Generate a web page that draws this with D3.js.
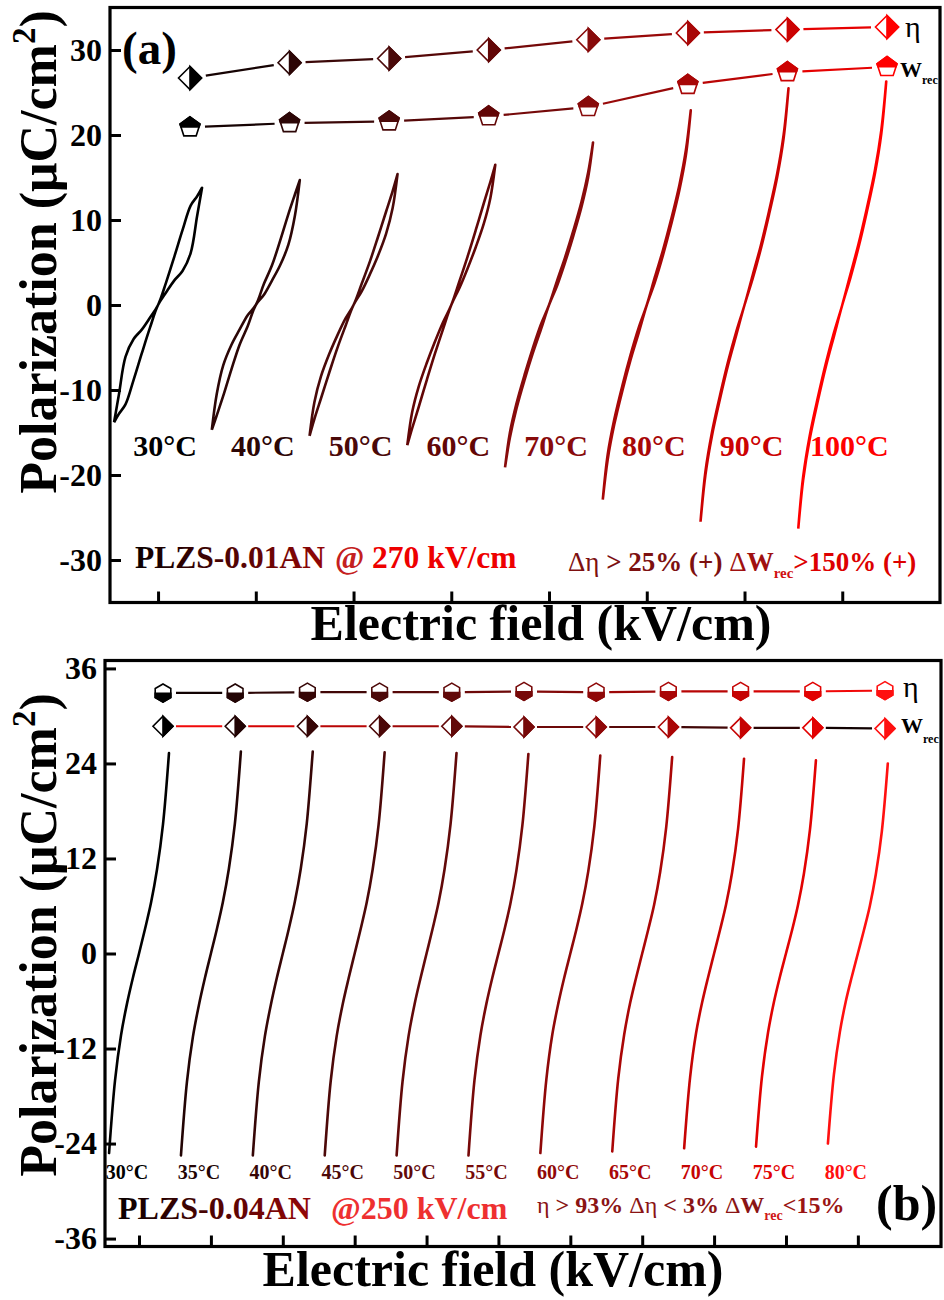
<!DOCTYPE html>
<html><head><meta charset="utf-8">
<script src="https://cdn.jsdelivr.net/npm/d3@7"></script>
<style>
body{margin:0;background:#fff;}
svg{display:block;font-family:"Liberation Serif","Times New Roman",serif;font-weight:bold;}
</style></head><body>
<svg id="chart" width="944" height="1300"></svg>
<script>
// ---------- Panel (a): PLZS-0.01AN, P–E loops at 270 kV/cm ----------
const tempsA = [30, 40, 50, 60, 70, 80, 90, 100];
// horizontal offset applied to each loop so they sit side by side (kV/cm)
const shiftA = [0, 600, 1200, 1800, 2400, 3000, 3600, 4200];
const fieldA = [-270, -240, -200, -150, -100, -50, 0, 50, 100, 150, 200, 240, 270];
// rising-field branch (µC/cm²) at fieldA
const ascA = [
  [-13.8, -12.8, -11.7, -8.8, -5.7, -2.7, 0, 1.5, 2.9, 4.0, 6.1, 10.5, 13.8],
  [-14.7, -13.0, -10.7, -7.6, -4.7, -2.5, 0, 1.2, 2.9, 4.7, 7.1, 10.5, 14.7],
  [-15.4, -13.4, -11.0, -8.0, -5.1, -2.5, 0, 1.6, 3.6, 5.8, 8.4, 11.4, 15.4],
  [-16.5, -14.5, -12.0, -8.8, -5.7, -2.8, 0, 2.0, 4.3, 6.8, 9.6, 12.6, 16.5],
  [-19.1, -15.6, -12.2, -8.8, -5.7, -2.9, 0, 2.3, 5.1, 8.2, 11.6, 15.0, 19.1],
  [-22.9, -18.2, -14.1, -10.1, -6.5, -3.3, 0, 2.7, 5.9, 9.5, 13.5, 17.6, 22.9],
  [-25.5, -20.0, -15.4, -11.0, -7.0, -3.5, 0, 3.1, 6.6, 10.6, 15.0, 19.6, 25.5],
  [-26.3, -20.6, -15.8, -11.3, -7.2, -3.6, 0, 3.2, 6.8, 10.9, 15.4, 20.2, 26.3]
];
// falling-field branch (µC/cm²) at fieldA
const descA = [
  [-13.8, -10.5, -6.1, -4.0, -2.9, -1.5, 0, 2.7, 5.7, 8.8, 11.7, 12.8, 13.8],
  [-14.7, -10.5, -7.1, -4.7, -2.9, -1.2, 0, 2.5, 4.7, 7.6, 10.7, 13.0, 14.7],
  [-15.4, -11.4, -8.4, -5.8, -3.6, -1.6, 0, 2.5, 5.1, 8.0, 11.0, 13.4, 15.4],
  [-16.5, -12.6, -9.6, -6.8, -4.3, -2.0, 0, 2.8, 5.7, 8.8, 12.0, 14.5, 16.5],
  [-19.1, -15.0, -11.6, -8.2, -5.1, -2.3, 0, 2.9, 5.7, 8.8, 12.2, 15.6, 19.1],
  [-22.9, -17.6, -13.5, -9.5, -5.9, -2.7, 0, 3.3, 6.5, 10.1, 14.1, 18.2, 22.9],
  [-25.5, -19.6, -15.0, -10.6, -6.6, -3.1, 0, 3.5, 7.0, 11.0, 15.4, 20.0, 25.5],
  [-26.3, -20.2, -15.4, -10.9, -6.8, -3.2, 0, 3.6, 7.2, 11.3, 15.8, 20.6, 26.3]
];
// efficiency and recoverable energy, plotted on the polarization axis
const etaA = [26.7, 28.5, 29.0, 30.0, 31.2, 32.0, 32.4, 32.7];
const wrecA = [20.9, 21.4, 21.6, 22.2, 23.3, 25.9, 27.4, 28.0];
const colorsA = ["#000000", "#2c0606", "#4a0909", "#620606", "#880b0b", "#a80707", "#cc0202", "#ff0000"];
const yTicksA = [-30, -20, -10, 0, 10, 20, 30];

// ---------- Panel (b): PLZS-0.04AN, P–E curves at 250 kV/cm ----------
const tempsB = [30, 35, 40, 45, 50, 55, 60, 65, 70, 75, 80];
const shiftB = [0, 600, 1200, 1800, 2400, 3000, 3600, 4200, 4800, 5400, 6000];
const fieldB = [-250, -200, -150, -100, -50, 0, 50, 100, 150, 200, 250];
const polB = [
  [-25.2, -16.0, -10.3, -6.3, -3.0, 0, 3.1, 6.4, 10.6, 16.3, 25.3],
  [-25.5, -16.2, -10.5, -6.5, -3.1, 0, 3.1, 6.5, 10.7, 16.4, 25.5],
  [-25.5, -16.2, -10.5, -6.5, -3.1, 0, 3.1, 6.5, 10.7, 16.4, 25.5],
  [-25.5, -16.1, -10.4, -6.4, -3.1, 0, 3.1, 6.4, 10.6, 16.3, 25.4],
  [-25.5, -16.1, -10.4, -6.4, -3.1, 0, 3.1, 6.4, 10.6, 16.3, 25.3],
  [-25.5, -16.0, -10.3, -6.3, -3.0, 0, 3.0, 6.3, 10.5, 16.2, 25.2],
  [-25.2, -15.9, -10.2, -6.3, -3.0, 0, 3.0, 6.3, 10.4, 16.0, 25.0],
  [-25.0, -15.8, -10.2, -6.2, -3.0, 0, 3.0, 6.2, 10.3, 15.9, 24.8],
  [-24.6, -15.6, -10.0, -6.2, -3.0, 0, 3.0, 6.2, 10.2, 15.7, 24.6],
  [-24.4, -15.5, -10.0, -6.1, -2.9, 0, 2.9, 6.1, 10.1, 15.6, 24.4],
  [-24.0, -15.3, -9.9, -6.0, -2.9, 0, 2.9, 6.0, 10.0, 15.4, 24.0]
];
const etaB = [32.9, 32.9, 33.0, 33.0, 33.0, 33.1, 33.0, 33.1, 33.1, 33.1, 33.2];
const wrecB = [28.7, 28.7, 28.7, 28.7, 28.7, 28.6, 28.6, 28.6, 28.5, 28.5, 28.4];
const colorsB = ["#000000", "#220404", "#360606", "#4c0808", "#620909", "#770909", "#8f0808", "#aa0606", "#c60404", "#e20202", "#ff1010"];
const yTicksB = [-36, -24, -12, 0, 12, 24, 36];

const svg = d3.select("#chart");
const defs = svg.append("defs");

function gradient(id, c0, c1) {
  const g = defs.append("linearGradient").attr("id", id).attr("x1", "0").attr("x2", "1").attr("y1", "0").attr("y2", "0");
  g.append("stop").attr("offset", "0").attr("stop-color", c0);
  g.append("stop").attr("offset", "1").attr("stop-color", c1);
}
gradient("nameA", "#0a0000", "#930606");
gradient("nameB", "#0a0000", "#950606");

defs.append("clipPath").attr("id", "upperHalf").append("rect").attr("x", -30).attr("y", -30).attr("width", 60).attr("height", 30.5);
defs.append("clipPath").attr("id", "lowerHalf").append("rect").attr("x", -30).attr("y", -0.5).attr("width", 60).attr("height", 30.5);

function polygon(r, n, startDeg) {
  const pts = d3.range(n).map(k => {
    const a = (startDeg + k * 360 / n) * Math.PI / 180;
    return [r * Math.cos(a), r * Math.sin(a)];
  });
  return "M" + pts.map(p => p.join(",")).join("L") + "Z";
}

function diamondMark(g, r, color) {
  g.append("path").attr("d", `M0,${-r}L${r},0L0,${r}L${-r},0Z`).attr("fill", "#fff").attr("stroke", color).attr("stroke-width", 1.6);
  g.append("path").attr("d", `M0,${-r}L${r},0L0,${r}Z`).attr("fill", color).attr("stroke", color).attr("stroke-width", 1.6).attr("stroke-linejoin", "miter");
}
function pentagonMark(g, r, color) {
  const d = polygon(r, 5, -90);
  g.append("path").attr("d", d).attr("fill", "#fff").attr("stroke", color).attr("stroke-width", 1.6);
  g.append("path").attr("d", d).attr("fill", color).attr("stroke", color).attr("stroke-width", 1.6).attr("clip-path", "url(#upperHalf)");
}
function hexagonMark(g, r, color) {
  const d = polygon(r, 6, -90);
  g.append("path").attr("d", d).attr("fill", "#fff").attr("stroke", color).attr("stroke-width", 1.6);
  g.append("path").attr("d", d).attr("fill", color).attr("stroke", color).attr("stroke-width", 1.6).attr("clip-path", "url(#lowerHalf)");
}

// connect consecutive markers with short segments that stop before each marker
function markerSeries(gp, xs, ys, gap, segColor, drawMark, r, markColor) {
  for (let i = 0; i < xs.length - 1; i++) {
    const x0 = xs[i], y0 = ys[i], x1 = xs[i + 1], y1 = ys[i + 1];
    const len = Math.hypot(x1 - x0, y1 - y0), ux = (x1 - x0) / len, uy = (y1 - y0) / len;
    gp.append("line")
      .attr("x1", x0 + ux * gap).attr("y1", y0 + uy * gap)
      .attr("x2", x1 - ux * gap).attr("y2", y1 - uy * gap)
      .attr("stroke", segColor(i)).attr("stroke-width", 2.2);
  }
  xs.forEach((x, i) => {
    const g = gp.append("g").attr("transform", `translate(${x},${ys[i]})`);
    drawMark(g, r, markColor(i));
  });
}

function frameAndAxes(gp, x, y, yTicks, xTicks) {
  const [x0, x1] = x.range(), [y0, y1] = y.range();
  gp.append("g").attr("transform", `translate(${x0},0)`)
    .call(d3.axisLeft(y).tickValues(yTicks).tickSize(-11).tickPadding(8).tickFormat(d => String(d)))
    .call(a => a.select(".domain").remove())
    .call(a => a.selectAll(".tick line").attr("stroke", "#000").attr("stroke-width", 3))
    .call(a => a.selectAll(".tick text").attr("font-family", "Liberation Serif, Times New Roman, serif")
      .attr("font-weight", "bold").attr("font-size", 32).attr("fill", "#000"));
  gp.append("g").attr("transform", `translate(0,${y0})`)
    .call(d3.axisBottom(x).tickValues(xTicks).tickSize(-11).tickFormat(""))
    .call(a => a.select(".domain").remove())
    .call(a => a.selectAll(".tick line").attr("stroke", "#000").attr("stroke-width", 3));
  gp.append("rect").attr("x", x0).attr("y", y1).attr("width", x1 - x0).attr("height", y0 - y1)
    .attr("fill", "none").attr("stroke", "#000").attr("stroke-width", 3.2);
}

function yLabel(cx, cy) {
  const t = svg.append("text").attr("transform", `translate(${cx},${cy}) rotate(-90)`)
    .attr("text-anchor", "middle").attr("font-size", 52).attr("fill", "#000");
  t.append("tspan").text("Polarization (μC/cm");
  t.append("tspan").attr("font-size", 33).attr("dy", -21).text("2");
  t.append("tspan").attr("dy", 21).text(")");
}

const lineGen = (x, y) => d3.line().x(d => x(d[0])).y(d => y(d[1])).curve(d3.curveCatmullRom.alpha(0.5));

// ================= Panel (a) =================
{
  const x = d3.scaleLinear().domain([-295, 4800]).range([110, 940]);
  const y = d3.scaleLinear().domain([-35, 35]).range([602.5, 7.5]);
  const gp = svg.append("g");

  // loops: rising branch then falling branch back to the start
  tempsA.forEach((t, i) => {
    const pts = fieldA.map((e, k) => [shiftA[i] + e, ascA[i][k]])
      .concat(fieldA.map((e, k) => [shiftA[i] + e, descA[i][k]]).reverse());
    gp.append("path").attr("d", lineGen(x, y)(pts)).attr("fill", "none")
      .attr("stroke", colorsA[i]).attr("stroke-width", 2.6).attr("stroke-linejoin", "round");
  });

  // temperature labels
  tempsA.forEach((t, i) => {
    gp.append("text").attr("x", x(shiftA[i]) + 7).attr("y", 456).attr("text-anchor", "middle")
      .attr("font-size", 30).attr("fill", colorsA[i]).text(`${t}°C`);
  });

  const mx = d3.scalePoint().domain(tempsA).range([190, 887]);
  const xs = tempsA.map(t => mx(t));
  const segA = i => d3.interpolateRgb(colorsA[i], colorsA[i + 1])(0.5);
  markerSeries(gp, xs, etaA.map(y), 16, segA, diamondMark, 11.5, i => colorsA[i]);
  markerSeries(gp, xs, wrecA.map(y), 15, segA, pentagonMark, 10.5, i => colorsA[i]);

  frameAndAxes(gp, x, y, yTicksA, shiftA);

  gp.append("text").attr("x", 122).attr("y", 64).attr("font-size", 47).attr("fill", "#000").text("(a)");

  // legend labels
  gp.append("text").attr("x", 905).attr("y", 37).attr("font-size", 30).attr("font-weight", "normal").attr("fill", "#000").text("η");
  const w = gp.append("text").attr("x", 900).attr("y", 77).attr("font-size", 22).attr("fill", "#000");
  w.append("tspan").text("W");
  w.append("tspan").attr("font-size", 12).attr("dy", 7).text("rec");

  // sample and field annotation
  const nm = gp.append("text").attr("x", 135).attr("y", 568).attr("font-size", 31.5).attr("fill", "url(#nameA)").text("PLZS-0.01AN");
  const nmEnd = 135 + nm.node().getComputedTextLength();
  const fa = gp.append("text").attr("x", nmEnd + 10).attr("y", 568).attr("font-size", 31.5);
  fa.append("tspan").attr("fill", "#c42020").text("@ ");
  fa.append("tspan").attr("fill", "#ee0000").text("270 kV/cm");

  const d = gp.append("text").attr("x", 568).attr("y", 571).attr("font-size", 27);
  d.append("tspan").attr("fill", "#7d1010").attr("font-weight", "normal").text("Δη");
  d.append("tspan").attr("fill", "#7d1010").text(" > 25% (+) ");
  d.append("tspan").attr("fill", "#a01010").attr("font-weight", "normal").text("Δ");
  d.append("tspan").attr("fill", "#a01010").text("W");
  d.append("tspan").attr("fill", "#d01010").attr("font-size", 15).attr("dy", 7).text("rec");
  d.append("tspan").attr("fill", "#dd0000").attr("dy", -7).text(">150% (+)");

  svg.append("text").attr("x", 541).attr("y", 640).attr("text-anchor", "middle").attr("font-size", 50).attr("fill", "#000").text("Electric field (kV/cm)");
  yLabel(56, 252);
}

// ================= Panel (b) =================
{
  const x = d3.scaleLinear().domain([-284, 6694]).range([105, 941]);
  const y = d3.scaleLinear().domain([-37, 37]).range([1246.5, 660.5]);
  const gp = svg.append("g");

  tempsB.forEach((t, i) => {
    const pts = fieldB.map((e, k) => [shiftB[i] + e, polB[i][k]]);
    gp.append("path").attr("d", lineGen(x, y)(pts)).attr("fill", "none")
      .attr("stroke", colorsB[i]).attr("stroke-width", 2.6).attr("stroke-linecap", "round");
  });

  tempsB.forEach((t, i) => {
    gp.append("text").attr("x", x(shiftB[i]) - 12).attr("y", 1179).attr("text-anchor", "middle")
      .attr("font-size", 20).attr("fill", colorsB[i]).text(`${t}°C`);
  });

  const mx = d3.scalePoint().domain(tempsB).range([163, 885]);
  const xs = tempsB.map(t => mx(t));
  const n = tempsB.length;
  markerSeries(gp, xs, etaB.map(y), 13, i => d3.interpolateRgb(colorsB[i], colorsB[i + 1])(0.5), hexagonMark, 9, i => colorsB[i]);
  markerSeries(gp, xs, wrecB.map(y), 13, i => d3.interpolateRgb(colorsB[n - 1 - i], colorsB[n - 2 - i])(0.5), diamondMark, 10, i => colorsB[i]);

  frameAndAxes(gp, x, y, yTicksB, shiftB);

  gp.append("text").attr("x", 876).attr("y", 1220).attr("font-size", 50).attr("fill", "#000").text("(b)");

  gp.append("text").attr("x", 903).attr("y", 697).attr("font-size", 30).attr("font-weight", "normal").attr("fill", "#000").text("η");
  const w = gp.append("text").attr("x", 901).attr("y", 733).attr("font-size", 22).attr("fill", "#000");
  w.append("tspan").text("W");
  w.append("tspan").attr("font-size", 12).attr("dy", 10).text("rec");

  const nm = gp.append("text").attr("x", 118).attr("y", 1219).attr("font-size", 32).attr("fill", "url(#nameB)").text("PLZS-0.04AN");
  const nmEnd = 118 + nm.node().getComputedTextLength();
  gp.append("text").attr("x", nmEnd + 20).attr("y", 1219).attr("font-size", 32).attr("fill", "#ee3030").text("@250 kV/cm");

  const d = gp.append("text").attr("x", 537).attr("y", 1213).attr("font-size", 24).attr("fill", "#8a1414");
  d.append("tspan").attr("font-weight", "normal").text("η");
  d.append("tspan").text(" > 93% ");
  d.append("tspan").attr("font-weight", "normal").text("Δη");
  d.append("tspan").text(" < 3% ");
  d.append("tspan").attr("font-weight", "normal").text("Δ");
  d.append("tspan").text("W");
  d.append("tspan").attr("fill", "#d01818").attr("font-size", 14).attr("dy", 7).text("rec");
  d.append("tspan").attr("fill", "#9a1414").attr("dy", -7).text("<15%");

  svg.append("text").attr("x", 493).attr("y", 1286).attr("text-anchor", "middle").attr("font-size", 50).attr("fill", "#000").text("Electric field (kV/cm)");
  yLabel(56, 935);
}
</script>
</body></html>
